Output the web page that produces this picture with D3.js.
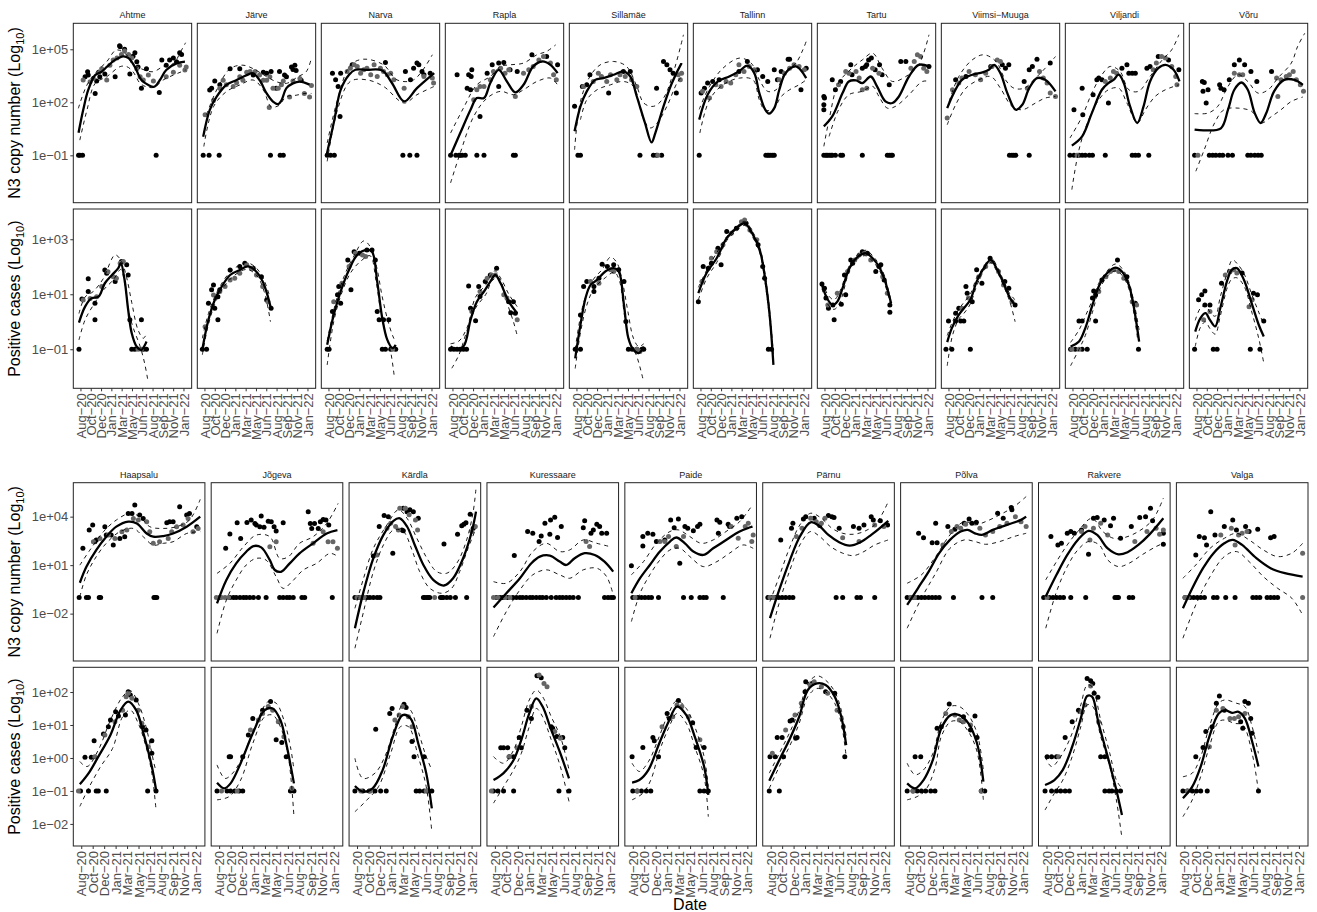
<!DOCTYPE html>
<html>
<head>
<meta charset="utf-8">
<script src="https://cdn.jsdelivr.net/npm/d3@7"></script>
<style>
  body { margin: 0; background: #fff; }
  svg { font-family: "Liberation Sans", Arial, Helvetica, sans-serif; }
</style>
</head>
<body>
<div id="chart"></div>
<script>
// x values are months since 1 Aug 2020, y values are log10 of the measure (0.1 = no detection)
const locA = ['Ahtme', 'Järve', 'Narva', 'Rapla', 'Sillamäe', 'Tallinn', 'Tartu', 'Viimsi−Muuga', 'Viljandi', 'Võru']
const locB = ['Haapsalu', 'Jõgeva', 'Kärdla', 'Kuressaare', 'Paide', 'Pärnu', 'Põlva', 'Rakvere', 'Valga']
const dateTicks = ['2020-08-31', '2020-10-19', '2020-12-07', '2021-01-25', '2021-03-15', '2021-05-03',
  '2021-06-21', '2021-08-09', '2021-09-27', '2021-11-15', '2022-01-03']

// ---- group A, N3 copy number
const n3BlackA = [
  [[0.7,-1],[0.9,-1],[1.3,-1],[12.8,-1],[1.7,3.45],[2.1,3.73],[2.2,3.54],[3.3,2.5],[3.5,3.2],[4.0,3.45],[4.8,3.6],[6.4,3.45],[7.2,5.15],[7.1,5.2],[7.9,5.0],[8.7,3.6],[9.2,4.6],[9.5,4.8],[9.8,4.3],[10.0,4.0],[10.5,2.8],[11.3,3.9],[13.3,2.55],[13.7,4.4],[14.4,4.1],[14.9,4.4],[15.5,4.5],[16.0,4.3],[16.5,4.8],[16.8,4.7]],
  [[0.8,-1],[1.7,-1],[3.3,-1],[11.3,-1],[12.8,-1],[13.3,-1],[1.8,2.7],[2.1,2.8],[2.6,3.2],[3.4,3.0],[5.0,3.9],[6.5,3.9],[8.6,3.55],[10.2,3.7],[10.7,3.65],[11.4,3.75],[12.7,3.75],[13.5,3.55],[13.8,3.45],[14.6,4.0],[15.1,4.1],[14.8,3.85],[15.3,3.8],[16.1,3.25],[12.2,2.8]],
  [[0.8,-1],[1.3,-1],[1.9,-1],[12.6,-1],[13.7,-1],[14.8,-1],[1.6,3.65],[2.1,3.27],[2.9,3.65],[2.5,2.9],[2.8,1.2],[4.7,4.12],[9.9,4.25],[13.0,3.75],[13.8,3.27],[14.3,3.93],[14.8,4.22],[15.1,4.12],[15.6,3.75],[15.9,3.56],[16.9,3.65]],
  [[0.7,-1],[1.5,-1],[2.0,-1],[2.2,-1],[2.5,-1],[3.0,-1],[4.8,-1],[5.9,-1],[10.5,-1],[10.8,-1],[1.7,3.56],[3.5,3.56],[4.0,3.84],[3.9,3.46],[3.3,2.8],[3.8,2.71],[5.3,1.2],[6.4,3.65],[7.2,4.12],[8.2,4.22],[9.0,4.25],[8.2,2.9],[10.0,3.84],[11.1,3.75],[13.4,4.69],[15.7,4.59],[17.4,4.12]],
  [[1.2,-1],[1.6,-1],[10.9,-1],[13.0,-1],[13.5,-1],[14.3,-1],[0.7,1.77],[1.9,2.9],[2.6,3.0],[3.1,3.56],[6.0,2.52],[8.3,3.75],[9.4,3.75],[13.5,2.8],[14.6,4.31],[15.1,4.12],[15.6,3.84],[16.1,3.65],[16.6,2.52]],
  [[0.8,-1],[11.2,-1],[11.5,-1],[11.7,-1],[12.0,-1],[12.3,-1],[12.5,-1],[1.1,2.52],[1.6,2.8],[2.1,3.09],[2.9,3.18],[3.9,3.27],[7.0,3.75],[8.3,4.31],[9.9,3.84],[10.7,3.46],[11.5,3.18],[12.5,3.84],[13.0,3.27],[13.6,3.75],[14.7,4.44],[14.9,4.44],[16.7,2.71],[17.5,3.93]],
  [[0.9,-1],[1.2,-1],[1.4,-1],[1.7,-1],[2.0,-1],[2.2,-1],[2.7,-1],[3.5,-1],[3.8,-1],[6.9,-1],[10.8,-1],[11.1,-1],[11.4,-1],[11.6,-1],[0.9,2.33],[1.0,2.24],[0.9,1.86],[0.9,1.58],[2.2,3.27],[2.7,2.71],[3.5,3.18],[5.1,4.12],[5.3,3.56],[6.9,3.93],[7.6,4.12],[7.9,4.4],[8.3,4.5],[7.4,4.03],[8.9,3.84],[9.6,4.12],[10.0,3.56],[11.1,2.99],[12.9,4.31],[13.7,4.31],[17.3,4.03]],
  [[10.5,-1],[10.9,-1],[11.2,-1],[11.5,-1],[13.6,-1],[2.1,3.27],[3.7,3.46],[7.6,4.03],[9.4,4.12],[9.9,3.93],[10.4,4.12],[12.8,3.18],[13.6,3.84],[14.1,4.03],[14.8,4.44],[16.9,4.22]],
  [[0.6,-1],[1.2,-1],[2.0,-1],[2.5,-1],[3.0,-1],[3.6,-1],[4.1,-1],[6.1,-1],[10.3,-1],[10.8,-1],[11.3,-1],[12.9,-1],[1.2,1.58],[2.5,2.8],[2.6,1.3],[4.2,2.43],[4.8,3.27],[5.1,3.37],[5.6,3.27],[6.6,1.96],[8.7,3.93],[9.5,4.12],[9.8,3.65],[10.3,3.65],[10.8,3.65],[12.6,3.93],[13.1,4.03],[14.4,4.59],[16.0,4.4],[17.6,3.84]],
  [[0.7,-1],[3.0,-1],[3.5,-1],[4.0,-1],[4.6,-1],[5.1,-1],[5.9,-1],[6.6,-1],[9.0,-1],[9.5,-1],[10.1,-1],[10.6,-1],[11.1,-1],[1.9,3.18],[2.2,3.12],[2.0,2.62],[2.8,2.71],[2.5,1.96],[4.6,2.99],[4.8,2.8],[5.3,2.71],[6.1,3.27],[6.9,4.12],[7.7,4.4],[8.5,4.12],[9.5,3.75],[10.4,3.18],[12.7,3.75]]
]
const n3GreyA = [
  [[1.4,3.26],[2.5,3.17],[3.0,3.35],[3.8,3.7],[4.3,3.9],[5.1,3.26],[5.6,4.1],[6.1,4.4],[6.7,4.5],[7.4,4.7],[7.9,4.9],[8.5,4.7],[9.0,4.5],[9.8,3.9],[10.3,3.45],[10.8,3.26],[11.6,3.55],[12.4,3.2],[14.4,3.45],[15.5,3.7],[16.5,4.1],[17.3,3.83],[17.5,4.0]],
  [[1.1,1.3],[2.4,2.1],[3.4,2.8],[3.9,3.25],[4.4,3.0],[5.5,2.9],[6.0,3.1],[6.5,3.45],[7.0,3.25],[7.6,3.7],[8.1,3.75],[8.9,3.75],[9.6,3.55],[10.2,3.25],[10.7,3.25],[11.1,1.7],[11.2,3.45],[11.7,2.8],[12.5,2.8],[13.0,3.0],[13.3,3.2],[14.3,2.3],[14.8,3.2],[15.9,3.35],[16.6,2.5],[17.4,2.3],[17.7,2.95]],
  [[3.9,3.75],[4.4,3.93],[5.0,4.12],[5.5,4.03],[6.0,3.65],[6.5,3.84],[7.0,3.93],[7.6,3.56],[8.1,4.12],[8.6,3.46],[9.1,3.93],[9.6,3.75],[10.2,3.56],[10.7,3.65],[11.2,3.27],[12.8,2.8],[15.9,3.46],[17.2,3.37],[17.4,3.09]],
  [[4.3,2.14],[4.8,2.71],[5.3,2.9],[5.9,2.9],[6.9,3.27],[7.4,3.75],[8.5,3.93],[9.2,3.65],[9.8,3.84],[10.8,2.33],[12.1,3.65],[12.9,3.84],[13.6,4.03],[14.5,4.4],[15.2,4.59],[16.3,4.22],[16.8,3.56],[17.2,3.27]],
  [[2.1,2.9],[3.6,3.18],[4.4,3.65],[4.9,3.46],[5.7,3.18],[6.3,3.56],[7.3,3.27],[7.8,3.56],[8.6,3.46],[9.6,3.27],[10.4,2.9],[13.7,-1],[16.9,3.56],[17.2,3.27],[17.4,3.65]],
  [[1.3,2.62],[2.4,2.24],[3.4,2.99],[4.2,2.9],[5.0,3.18],[5.7,3.09],[6.5,3.56],[7.0,4.12],[7.8,3.75],[8.6,4.03],[9.4,3.84],[13.3,3.27],[14.1,3.65],[14.9,3.93],[15.6,4.12],[16.4,4.03],[17.2,3.84]],
  [[3.2,2.99],[4.3,3.75],[4.8,3.65],[5.9,3.75],[6.4,3.37],[6.9,2.71],[7.6,2.8],[8.5,3.93],[9.5,3.65],[14.5,3.93],[15.0,4.31],[15.5,4.69],[16.0,4.59],[16.5,3.93],[17.0,3.75]],
  [[0.8,1.11],[1.6,2.71],[2.6,3.09],[3.1,3.37],[4.2,3.75],[5.2,3.56],[6.0,3.27],[6.8,3.65],[7.8,4.03],[8.6,4.4],[9.1,4.31],[13.3,2.8],[15.2,3.75],[15.8,3.37],[16.4,3.09],[16.9,2.52],[17.7,2.33]],
  [[1.7,-1],[6.1,3.18],[6.9,3.37],[7.4,3.75],[7.9,3.65],[13.6,3.84],[14.1,4.22],[14.9,4.59],[15.5,4.5],[16.5,4.03],[17.1,3.46],[17.3,2.99]],
  [[1.2,-1],[6.9,3.65],[7.7,3.56],[8.2,3.56],[13.5,3.37],[13.7,2.33],[14.2,3.27],[15.0,3.46],[15.5,3.56],[16.1,3.75],[16.6,3.27],[17.2,2.99],[17.7,2.62]]
]
const n3FitA = [
  [[0.7,0.28],[1.4,1.56],[2.2,2.7],[3.3,3.54],[4.3,3.73],[5.1,4.0],[6.4,4.4],[7.7,4.6],[8.5,4.5],[9.5,4.0],[10.5,3.26],[11.6,2.98],[12.5,2.88],[13.4,3.26],[14.4,3.83],[16.0,4.2],[17.3,4.3]],
  [[0.8,0.05],[1.8,1.56],[2.9,2.32],[4.4,2.98],[6.0,3.26],[7.6,3.54],[8.6,3.64],[9.6,3.26],[10.7,2.5],[11.7,2.04],[12.5,1.9],[13.0,2.1],[13.8,2.8],[14.8,3.07],[15.9,3.17],[17.4,3.0]],
  [[0.7,-1],[1.9,1.0],[2.9,2.7],[4.2,3.56],[5.2,3.84],[7.0,3.84],[9.4,3.8],[10.9,3.09],[12.8,2.05],[14.8,2.8],[17.5,3.65]],
  [[0.7,-1],[2.2,0.26],[3.8,1.58],[4.8,2.24],[5.9,2.24],[6.9,3.09],[8.2,3.84],[9.5,3.18],[10.8,2.56],[12.1,2.99],[13.6,4.03],[15.0,4.31],[16.3,4.12],[17.4,3.65]],
  [[0.7,0.36],[1.6,1.77],[2.6,2.62],[3.9,3.27],[5.2,3.37],[6.8,3.56],[8.3,3.75],[9.4,3.46],[10.4,2.33],[11.7,0.83],[12.7,-0.27],[13.3,0.26],[14.6,1.77],[15.9,3.09],[17.4,4.22]],
  [[0.8,1.02],[2.1,2.43],[3.7,3.18],[5.5,3.46],[7.0,3.75],[8.3,4.07],[9.4,3.65],[10.2,2.52],[11.1,1.58],[11.7,1.36],[12.5,1.67],[13.3,2.71],[14.3,3.65],[15.9,4.03],[17.5,3.37]],
  [[0.9,0.64],[2.2,1.2],[3.8,2.52],[4.8,3.18],[5.9,3.24],[6.9,3.09],[8.2,3.46],[9.2,2.9],[10.5,2.05],[11.6,1.96],[12.6,2.33],[14.2,3.46],[15.7,4.12],[17.3,4.03]],
  [[0.8,1.67],[1.8,2.52],[3.1,3.27],[4.7,3.56],[6.3,3.69],[7.3,3.84],[8.1,4.12],[9.1,3.65],[10.2,2.52],[11.5,1.58],[12.5,1.86],[13.6,2.8],[14.8,3.37],[16.1,3.27],[17.7,2.62]],
  [[0.9,-0.45],[2.5,0.07],[4.0,1.39],[5.6,2.71],[6.6,3.09],[7.4,3.27],[8.2,3.56],[9.0,3.09],[10.0,1.77],[11.1,0.83],[12.1,1.77],[13.1,3.18],[14.4,3.93],[15.5,4.12],[16.8,3.84],[17.7,3.18]],
  [[0.7,0.45],[2.2,0.41],[4.8,0.53],[5.9,1.58],[6.9,2.71],[8.0,3.12],[9.0,2.71],[10.1,1.39],[11.0,0.83],[11.9,1.39],[13.1,2.62],[14.7,3.27],[16.3,3.27],[17.6,2.99]]
]
const n3HiA = [
  [[0.65,1.66],[2.0,2.98],[3.5,3.73],[5.1,4.3],[6.6,4.96],[8.2,4.68],[9.2,4.1],[10.3,3.92],[12.3,3.73],[13.9,4.02],[15.5,4.2],[16.8,4.96],[17.4,5.37]],
  [[1.3,1.3],[2.9,2.7],[5.0,3.9],[7.0,4.1],[8.6,3.9],[10.7,3.45],[12.2,3.17],[13.8,3.07],[15.6,3.45],[16.9,3.73],[17.7,4.5]],
  [[0.8,-0.3],[2.4,2.14],[4.4,4.1],[6.5,4.44],[9.6,4.12],[11.7,3.27],[14.3,3.27],[17.2,4.69]],
  [[0.7,0.26],[2.7,1.67],[4.8,2.99],[6.9,3.46],[8.5,4.03],[10.0,4.12],[12.1,4.22],[14.2,4.69],[15.7,4.88],[17.1,5.25]],
  [[0.7,-0.68],[1.6,2.05],[3.1,3.46],[4.7,4.12],[6.8,4.31],[8.8,4.03],[10.4,2.9],[11.5,1.96],[13.0,1.77],[14.6,2.24],[16.1,3.65],[17.7,5.82]],
  [[0.8,1.6],[2.4,2.9],[4.5,3.93],[7.1,4.5],[8.9,4.22],[10.2,3.27],[11.5,2.62],[12.8,2.71],[14.3,3.75],[15.9,4.22],[17.0,4.97],[17.6,5.54]],
  [[0.9,-0.49],[1.7,1.02],[3.2,3.09],[5.3,3.93],[6.9,4.4],[8.5,4.78],[10.0,3.93],[11.6,3.18],[13.7,3.46],[15.7,4.12],[17.3,5.82]],
  [[1.1,2.05],[2.6,3.46],[4.7,4.4],[6.5,4.69],[8.4,4.31],[9.9,3.27],[11.2,2.8],[12.8,2.8],[14.6,3.37],[16.1,3.93],[17.7,4.59]],
  [[0.6,-0.02],[2.5,1.2],[4.0,2.52],[5.6,3.56],[6.9,4.03],[8.4,3.75],[9.8,2.71],[11.3,2.62],[13.1,3.46],[15.0,4.4],[16.5,4.97],[17.6,5.82]],
  [[0.7,1.36],[2.8,1.39],[4.3,1.77],[5.9,2.9],[7.5,3.56],[9.0,3.18],[10.6,2.52],[12.2,2.71],[13.7,3.37],[15.8,4.22],[16.8,5.16],[17.9,5.91]]
]
const n3LoA = [
  [[0.9,-0.14],[2.0,1.56],[3.3,3.07],[5.1,3.45],[7.2,4.02],[8.2,4.02],[9.2,3.73],[10.3,3.07],[11.3,2.88],[12.5,2.85],[13.9,3.26],[15.5,3.54],[16.8,3.73],[17.4,3.83]],
  [[0.9,-0.5],[2.4,1.75],[4.4,2.6],[6.5,2.98],[8.6,3.26],[10.2,2.7],[11.4,1.75],[12.5,1.8],[13.8,2.32],[15.3,2.4],[16.9,2.51],[17.7,2.5]],
  [[0.8,-1.34],[2.4,1.58],[4.4,3.18],[7.0,3.27],[9.6,2.9],[12.8,1.96],[14.8,2.43],[17.5,2.9]],
  [[0.7,-2.56],[2.2,-0.87],[4.3,1.2],[6.4,2.24],[8.5,2.62],[10.5,2.43],[12.1,2.71],[14.2,3.18],[16.3,3.37],[17.4,2.99]],
  [[1.6,1.02],[2.6,2.14],[4.2,2.71],[6.3,2.99],[8.3,3.18],[9.9,2.9],[11.5,1.02],[12.5,0.55],[13.6,0.83],[15.1,1.77],[16.7,3.09],[17.6,3.56]],
  [[0.9,0.26],[2.4,2.14],[4.5,2.99],[7.1,3.37],[9.2,3.27],[10.2,2.14],[11.0,1.58],[12.3,1.58],[13.6,2.33],[14.9,2.71],[16.4,2.99],[17.5,3.27]],
  [[1.7,0.07],[3.2,1.58],[4.8,2.43],[6.9,2.62],[8.5,2.9],[9.5,2.33],[10.8,1.67],[12.1,1.77],[14.2,2.43],[16.3,3.18],[17.5,3.18]],
  [[0.8,0.73],[2.1,1.86],[3.7,2.8],[5.7,3.27],[7.6,3.46],[9.1,2.8],[10.9,1.77],[12.5,1.58],[14.6,1.96],[16.1,2.24],[17.7,2.33]],
  [[0.9,-2.94],[2.0,-0.68],[3.5,1.02],[5.1,2.14],[6.6,2.71],[8.2,2.8],[9.5,1.96],[11.1,0.83],[12.4,1.58],[13.9,2.33],[15.5,2.71],[17.6,2.99]],
  [[0.9,-1.9],[2.2,-0.68],[3.8,0.83],[5.3,1.58],[7.5,1.67],[9.6,1.49],[11.1,0.83],[12.7,1.2],[14.2,1.58],[15.8,2.05],[17.6,2.3]]
]

// ---- group A, positive cases
const casesBlackA = [
  [[0.75,-1],[1.2,0.83],[2.2,1.1],[2.2,1.56],[3.25,0.07],[3.25,0.67],[4.8,1.88],[5.1,1.76],[6.4,1.46],[7.4,2.19],[8.2,2.07],[8.45,1.7],[8.7,0.07],[9.0,-1],[9.5,-1],[10.5,0.07],[10.8,-1],[11.3,-1]],
  [[0.65,-1],[1.3,-1],[1.6,0.67],[2.4,1.34],[2.1,1.16],[2.6,0.49],[3.1,0.91],[3.1,0.07],[3.4,1.16],[5.0,1.88],[6.5,2.01],[7.3,2.13],[8.6,1.95],[9.9,1.64],[10.7,0.79],[11.4,0.49]],
  [[0.8,-1],[1.1,-1],[1.6,0.37],[2.4,0.98],[2.6,1.28],[2.9,0.67],[4.5,1.16],[4.0,2.25],[5.0,2.55],[5.8,2.49],[7.0,2.61],[7.8,2.61],[8.3,2.25],[8.6,0.37],[8.9,0.07],[9.6,0.07],[10.4,0.07],[9.4,-1],[9.9,-1],[10.7,-1],[11.5,-1]],
  [[0.7,-1],[1.2,-1],[1.7,-1],[2.2,-1],[2.7,-1],[3.2,-1],[3.5,1.3],[5.1,1.28],[3.8,0.49],[4.6,0.04],[5.3,0.92],[6.1,1.46],[6.9,1.7],[7.9,1.95],[9.8,0.73],[10.1,0.33],[10.5,0.73],[10.8,0.31]],
  [[0.8,-1],[1.6,-1],[1.6,0.25],[2.1,1.28],[2.6,1.46],[3.7,1.1],[3.7,1.28],[4.5,1.58],[5.0,2.09],[5.8,2.01],[6.8,2.07],[7.6,1.89],[8.4,1.46],[8.7,0.01],[9.1,-1],[9.7,-1],[10.4,-1],[11.2,-1],[11.5,-1]],
  [[0.65,0.73],[1.4,2.01],[2.2,1.95],[2.7,2.13],[4.2,2.07],[3.7,2.67],[5.1,3.28],[6.6,3.4],[8.1,3.58],[10.0,2.8],[10.7,2.01],[11.0,1.58],[11.6,-1],[12.1,-1]],
  [[0.6,1.37],[1.0,1.22],[1.2,0.86],[1.6,0.49],[2.5,0.07],[2.3,0.61],[3.6,0.64],[4.3,0.98],[4.1,1.7],[5.1,2.25],[5.4,2.13],[6.9,2.55],[7.7,2.49],[9.0,1.83],[9.5,2.01],[9.8,2.07],[10.3,1.52],[11.2,0.61],[11.2,0.35]],
  [[0.6,-1],[1.5,-1],[4.4,-1],[1.0,0.03],[2.1,0.03],[2.9,0.03],[3.4,0.03],[2.1,0.31],[2.6,0.49],[3.9,1.04],[3.7,1.28],[4.7,0.73],[5.4,1.89],[6.2,1.4],[7.5,2.31],[9.8,1.46],[10.4,1.22],[11.4,0.61]],
  [[0.7,-1],[1.4,-1],[2.5,-1],[3.3,-1],[2.0,0.03],[2.5,0.03],[4.6,0.03],[4.1,0.86],[4.3,1.12],[4.6,0.98],[5.6,1.52],[8.0,2.25],[9.5,1.64],[10.8,0.67],[11.3,-1]],
  [[0.7,-1],[3.6,-1],[4.2,-1],[9.4,-1],[10.9,-1],[1.3,0.8],[1.8,0.98],[2.3,1.12],[2.3,0.61],[3.1,0.61],[4.9,1.4],[6.2,1.83],[8.1,1.77],[9.9,1.04],[10.5,0.98],[11.5,0.03]]
]
const casesGreyA = [
  [[1.4,0.79],[2.5,0.85],[3.5,0.91],[4.3,1.28],[5.3,1.82],[6.1,1.64],[6.6,1.58],[7.2,2.13],[7.7,2.19],[10.0,-1],[10.5,-1]],
  [[1.1,-0.18],[2.4,0.97],[3.4,1.1],[4.2,1.28],[5.0,1.52],[5.7,1.58],[6.5,1.76],[7.6,2.07],[8.3,1.95],[9.1,1.7],[10.1,1.28],[10.9,0.73]],
  [[1.8,0.73],[3.1,1.4],[4.2,2.01],[5.2,2.49],[6.3,2.43],[6.8,2.37],[11.0,-1]],
  [[4.0,0.37],[5.3,1.1],[6.4,1.58],[7.1,1.7],[7.7,1.7],[9.0,0.98],[9.5,0.86],[11.1,0.07]],
  [[3.2,1.46],[4.5,1.4],[6.3,1.89],[6.8,1.83],[10.4,-1],[10.9,-1.08]],
  [[1.2,1.46],[2.7,2.31],[3.5,2.55],[4.5,2.8],[5.8,3.22],[7.4,3.64],[7.9,3.7],[8.7,3.34],[9.8,2.98]],
  [[1.5,0.61],[3.0,1.04],[4.6,1.83],[5.7,2.25],[6.4,2.43],[7.2,2.49],[8.2,2.25],[10.1,1.64],[10.8,1.04]],
  [[3.1,0.49],[4.1,0.86],[5.7,1.64],[6.8,2.01],[7.8,2.19],[8.8,1.83],[9.6,1.34],[10.9,0.73]],
  [[0.9,-1],[2.0,-1],[5.1,1.1],[6.2,1.64],[6.9,1.83],[7.5,1.89],[8.2,1.83],[9.0,1.58],[10.3,0.73],[11.0,0.61]],
  [[2.1,0.07],[3.1,0.37],[5.5,1.7],[6.2,1.83],[6.8,1.89],[7.3,1.77],[9.2,0.55],[9.7,0.8]]
]
const casesFitA = [
  [[0.75,-0.03],[1.7,0.55],[2.7,0.85],[3.8,0.91],[4.8,1.4],[5.9,1.7],[6.9,1.95],[7.3,2.13],[7.9,1.52],[8.45,0.43],[9.0,-0.42],[9.75,-0.9],[10.5,-1.02],[11.3,-0.72]],
  [[0.65,-1],[1.6,0.07],[2.6,0.79],[3.4,1.16],[5.0,1.7],[6.5,1.88],[7.8,2.01],[9.1,1.82],[10.1,1.46],[10.9,0.91],[11.3,0.55]],
  [[0.8,-0.84],[1.8,0.25],[2.9,1.1],[4.2,1.89],[5.5,2.43],[7.0,2.61],[7.8,2.55],[8.6,1.46],[9.4,0.13],[10.2,-0.66],[11.0,-0.96],[11.5,-0.84]],
  [[0.7,-0.9],[1.4,-0.99],[2.7,-0.9],[3.8,0.07],[4.8,0.73],[5.9,1.1],[6.9,1.46],[7.7,1.7],[8.5,1.4],[9.8,0.73],[11.1,0.31]],
  [[0.8,-1.33],[1.6,-0.11],[2.4,0.86],[3.2,1.34],[4.2,1.52],[5.5,1.83],[6.8,1.95],[7.6,1.83],[8.4,0.61],[9.1,-0.6],[9.9,-1.02],[10.7,-1.14],[11.5,-0.9]],
  [[0.65,1.04],[1.95,1.77],[3.5,2.31],[5.1,3.04],[6.6,3.4],[7.9,3.58],[9.2,3.16],[10.3,2.55],[11.0,1.7],[11.8,0.25],[12.4,-1.57]],
  [[0.6,1.34],[1.5,0.8],[2.3,0.61],[3.0,0.73],[3.8,1.22],[4.9,1.95],[6.2,2.37],[7.5,2.49],[8.5,2.31],[9.5,2.01],[10.3,1.58],[11.4,0.67]],
  [[0.8,-0.74],[1.5,-0.23],[2.6,0.25],[3.4,0.49],[4.4,0.8],[5.4,1.46],[6.5,1.95],[7.6,2.25],[8.6,1.89],[9.6,1.4],[10.6,0.86],[11.4,0.61]],
  [[0.7,-0.9],[2.0,-0.72],[3.0,-0.23],[4.1,0.61],[5.1,1.28],[6.4,1.77],[7.7,1.97],[8.7,1.83],[9.8,1.34],[10.5,0.61],[11.4,-0.72]],
  [[0.8,-0.36],[1.6,0.13],[2.4,0.31],[3.1,0.07],[3.9,-0.17],[4.7,0.49],[5.8,1.52],[6.5,1.89],[7.3,1.95],[8.4,1.52],[9.7,0.61],[10.7,-0.11],[11.5,-0.54]]
]
const casesHiA = [
  [[0.75,0.3],[1.7,0.9],[3.0,1.1],[4.5,1.55],[6.4,2.43],[7.4,2.2],[8.2,1.6],[9.0,0.7],[10.0,-0.3],[10.8,-0.6],[11.3,-0.45]],
  [[0.65,-0.6],[1.6,0.3],[3.0,1.1],[5.0,1.8],[7.5,2.15],[9.1,1.95],[10.3,1.5],[11.2,0.9]],
  [[0.8,-0.7],[2.0,0.6],[3.5,1.7],[5.0,2.4],[6.5,2.94],[7.6,2.7],[8.5,2.0],[9.4,0.9],[10.3,0.0],[11.0,-0.5],[11.5,-0.75]],
  [[0.7,-0.8],[2.0,-0.7],[3.3,-0.2],[4.6,0.9],[6.2,1.35],[7.6,1.85],[8.6,1.55],[9.8,1.0],[11.1,0.55]],
  [[0.8,-1.0],[2.0,0.6],[3.5,1.5],[5.0,1.9],[6.3,2.35],[7.3,2.15],[8.2,1.4],[9.0,0.4],[9.9,-0.6],[10.7,-0.9],[11.5,-0.8]],
  [[0.65,1.25],[2.0,1.9],[3.5,2.5],[5.1,3.1],[6.6,3.45],[7.9,3.65],[9.2,3.25],[10.3,2.65],[11.0,1.85],[11.8,0.4],[12.4,-1.2]],
  [[0.6,1.45],[1.6,0.95],[2.5,0.8],[3.4,1.1],[4.9,2.05],[6.2,2.45],[7.5,2.6],[8.5,2.4],[9.5,2.1],[10.3,1.7],[11.4,0.75]],
  [[0.8,-0.5],[1.6,0.0],[2.6,0.45],[3.4,0.7],[4.4,1.0],[5.4,1.6],[6.5,2.0],[7.6,2.35],[8.6,2.0],[9.6,1.5],[10.6,1.0],[11.4,0.8]],
  [[0.7,-0.75],[2.0,-0.3],[3.0,0.2],[4.1,0.8],[5.1,1.4],[6.4,1.85],[7.7,2.1],[8.7,1.95],[9.8,1.45],[10.5,0.8],[11.4,-0.3]],
  [[0.8,0.05],[1.6,0.5],[2.4,0.6],[3.1,0.35],[3.9,0.2],[4.7,0.9],[5.8,1.8],[6.6,2.25],[7.4,2.1],[8.4,1.75],[9.7,0.95],[10.7,0.35],[11.5,-0.1]]
]
const casesLoA = [
  [[0.75,-0.66],[1.7,0.07],[3.0,0.6],[4.6,1.16],[6.1,1.52],[7.3,1.9],[7.9,1.4],[8.5,0.4],[9.2,-0.2],[10.3,-0.9],[11.0,-1.5],[11.5,-2.1]],
  [[0.65,-1.2],[1.6,-0.1],[3.0,0.85],[5.0,1.55],[7.5,1.9],[9.1,1.7],[10.3,1.1],[11.3,0.0]],
  [[0.8,-1.57],[1.8,0.0],[3.0,1.0],[4.5,1.8],[6.0,2.2],[7.5,2.4],[8.4,1.5],[9.2,0.3],[10.0,-0.5],[10.7,-1.1],[11.3,-2.05]],
  [[0.9,-1.69],[2.0,-1.2],[3.3,-0.3],[4.6,0.5],[6.2,1.0],[7.2,1.5],[8.2,1.6],[9.5,0.7],[10.5,0.0],[11.1,-0.5]],
  [[0.8,-1.7],[1.6,-0.4],[2.6,0.6],[3.7,1.2],[5.5,1.6],[6.9,1.8],[7.7,1.5],[8.5,0.2],[9.4,-0.8],[10.3,-1.2],[11.4,-2.1]],
  [[0.65,0.8],[2.0,1.6],[3.5,2.15],[5.1,2.95],[6.6,3.3],[7.9,3.5],[9.2,3.05],[10.3,2.45],[11.0,1.55],[11.8,0.1],[12.3,-1.2]],
  [[0.6,1.2],[1.6,0.6],[2.5,0.45],[3.4,0.7],[4.9,1.85],[6.2,2.3],[7.5,2.4],[8.5,2.2],[9.5,1.9],[10.3,1.45],[11.4,0.55]],
  [[0.8,-1.6],[1.6,-0.5],[2.6,0.1],[3.4,0.3],[4.4,0.65],[5.4,1.3],[6.5,1.85],[7.6,2.15],[8.6,1.8],[9.6,1.3],[10.6,0.7],[11.4,0.0]],
  [[0.7,-1.6],[2.0,-1.0],[3.0,-0.5],[4.1,0.35],[5.1,1.1],[6.4,1.65],[7.7,1.85],[8.7,1.7],[9.8,1.2],[10.5,0.4],[11.2,-0.7]],
  [[0.8,-0.9],[1.6,-0.2],[2.4,0.0],[3.1,-0.25],[3.9,-0.45],[4.7,0.2],[5.8,1.25],[6.5,1.55],[7.3,1.6],[8.4,1.3],[9.7,0.3],[10.7,-0.6],[11.5,-1.5]]
]

// ---- group B, N3 copy number
const n3BlackB = [
  [[0.7,-1],[1.7,-1],[2.0,-1],[3.5,-1],[3.7,-1],[11.2,-1],[11.4,-1],[11.6,-1],[1.2,2.04],[2.1,3.17],[2.6,3.48],[2.9,2.45],[3.1,2.55],[4.3,3.38],[4.5,2.87],[5.2,2.87],[5.5,2.24],[6.4,2.65],[7.1,2.76],[7.6,4.2],[8.1,4.2],[8.5,4.72],[9.2,4.1],[9.7,3.89],[13.0,3.62],[13.4,3.69],[13.9,3.69],[14.8,4.61],[15.8,4.1],[16.2,4.2],[17.2,3.38]],
  [[1.1,-1],[2.5,-1],[3.0,-1],[3.4,-1],[3.9,-1],[4.4,-1],[4.8,-1],[5.3,-1],[5.8,-1],[6.5,-1],[7.6,-1],[9.5,-1],[10.0,-1],[10.5,-1],[10.9,-1],[11.4,-1],[12.6,-1],[13.0,-1],[16.9,-1],[1.9,2.04],[2.5,2.92],[3.5,3.62],[4.0,2.65],[4.9,3.64],[5.5,3.79],[6.0,3.58],[6.2,3.48],[6.7,3.38],[6.9,4.04],[7.3,3.34],[7.9,3.71],[8.3,3.69],[8.7,3.38],[9.0,3.11],[10.0,3.62],[13.5,4.3],[13.8,3.58],[14.0,3.27],[14.4,3.58],[14.9,3.27],[15.2,3.69],[15.6,3.83],[16.0,3.79],[16.4,3.48]],
  [[0.7,-1],[1.2,-1],[1.7,-1],[2.4,-1],[2.8,-1],[3.3,-1],[3.8,-1],[4.2,-1],[10.3,-1],[10.5,-1],[10.8,-1],[11.0,-1],[11.2,-1],[12.7,-1],[12.9,-1],[13.1,-1],[13.6,-1],[14.1,-1],[14.8,-1],[16.4,-1],[3.3,1.57],[4.1,3.39],[4.8,4.07],[5.4,4.0],[6.0,1.74],[7.3,3.18],[7.5,3.12],[7.5,4.52],[8.0,4.31],[8.4,4.42],[8.9,4.31],[9.6,3.9],[13.2,2.31],[15.1,2.91],[15.7,3.43],[16.0,3.53],[16.3,3.63],[16.9,4.15],[17.3,3.28]],
  [[1.2,-1],[1.7,-1],[2.1,-1],[2.8,-1],[3.5,-1],[4.0,-1],[4.5,-1],[4.9,-1],[5.4,-1],[5.9,-1],[6.3,-1],[6.8,-1],[7.3,-1],[7.7,-1],[8.2,-1],[8.9,-1],[9.6,-1],[10.1,-1],[10.5,-1],[11.0,-1],[11.5,-1],[12.0,-1],[12.7,-1],[16.4,-1],[16.9,-1],[17.3,-1],[17.65,-1],[3.7,1.59],[5.6,3.08],[6.3,2.97],[7.2,2.46],[7.5,2.81],[8.0,3.59],[8.8,3.8],[9.4,3.96],[8.7,2.91],[9.8,2.71],[10.3,3.39],[13.6,3.74],[13.4,3.32],[14.5,2.97],[14.8,3.18],[15.3,3.53],[15.7,3.39],[16.0,2.97],[16.7,2.97]],
  [[1.0,-1],[1.7,-1],[2.2,-1],[2.7,-1],[3.2,-1],[3.6,-1],[4.6,-1],[8.1,-1],[9.2,-1],[10.4,-1],[10.9,-1],[11.3,-1],[13.7,-1],[0.8,0.97],[2.4,2.19],[2.4,2.77],[3.1,2.97],[3.8,2.91],[4.3,2.46],[5.5,2.56],[6.3,3.8],[6.8,3.32],[7.4,3.86],[7.6,1.12],[8.3,3.39],[8.7,3.28],[9.5,3.12],[10.1,3.39],[10.4,3.53],[12.8,3.8],[13.2,3.66],[13.0,2.97],[14.4,3.53],[14.6,3.39],[15.6,3.9],[16.3,4.0]],
  [[0.6,-1],[1.1,-1],[1.6,-1],[2.1,-1],[2.6,-1],[3.1,-1],[3.6,-1],[4.1,-1],[10.2,-1],[11.1,-1],[13.1,-1],[13.6,-1],[15.6,-1],[2.4,2.56],[3.9,3.28],[4.1,3.59],[5.6,3.86],[5.9,4.0],[7.1,3.9],[7.9,3.45],[9.1,4.07],[9.6,4.0],[9.9,3.94],[10.6,3.28],[12.6,3.39],[13.4,3.28],[14.1,3.49],[15.1,4.0],[15.4,3.8],[16.4,3.74],[17.4,3.49]],
  [[0.8,-1],[1.3,-1],[1.8,-1],[2.3,-1],[2.8,-1],[3.3,-1],[3.8,-1],[4.3,-1],[4.8,-1],[5.3,-1],[7.3,-1],[11.3,-1],[12.8,-1],[2.4,2.97],[3.1,2.7],[4.3,2.39],[4.8,3.59],[5.0,2.39],[6.5,3.39],[7.5,3.22],[8.8,3.59],[9.5,3.86],[9.9,3.59],[10.5,3.65],[13.5,4.21],[14.3,3.9],[15.4,4.56],[15.5,4.42]],
  [[0.6,-1],[1.4,-1],[1.9,-1],[2.4,-1],[2.9,-1],[3.4,-1],[4.4,-1],[6.5,-1],[10.6,-1],[10.9,-1],[11.1,-1],[12.6,-1],[13.1,-1],[1.6,2.77],[2.6,2.25],[3.1,2.35],[3.9,2.97],[4.4,3.08],[4.9,2.97],[5.9,3.18],[6.9,1.67],[7.6,3.9],[8.1,3.94],[9.1,3.8],[10.0,3.43],[10.4,3.9],[11.4,2.66],[12.9,3.39],[14.1,3.94],[14.9,4.0],[15.6,4.52],[15.9,3.74],[17.4,2.97],[17.4,2.29]],
  [[1.1,-1],[1.8,-1],[2.3,-1],[2.8,-1],[3.3,-1],[3.8,-1],[5.1,-1],[5.6,-1],[6.8,-1],[8.1,-1],[10.6,-1],[11.1,-1],[11.6,-1],[12.6,-1],[13.1,-1],[13.6,-1],[14.1,-1],[2.6,1.63],[3.1,2.77],[3.8,2.7],[4.1,2.25],[4.7,4.31],[5.3,2.87],[6.6,3.39],[7.8,3.8],[8.3,3.18],[9.6,3.39],[10.1,3.08],[11.3,3.22],[13.1,2.7],[13.6,2.77]]
]
const n3GreyB = [
  [[2.7,2.45],[3.6,2.65],[4.8,2.87],[5.7,2.65],[6.7,3.07],[7.4,3.17],[8.3,3.89],[9.0,3.79],[10.2,3.69],[10.6,3.07],[11.1,2.35],[12.0,2.45],[13.2,2.65],[13.7,3.07],[14.4,3.38],[15.3,3.48],[16.0,3.89],[16.7,3.07],[17.4,3.27]],
  [[0.6,-1],[1.3,-1],[1.8,-1],[2.3,-1],[8.1,2.14],[9.0,2.45],[14.2,2.35],[15.6,3.07],[16.3,2.45],[17.0,2.45],[17.6,2.04]],
  [[1.0,-1],[1.5,-1],[2.0,-1],[11.9,-1],[3.8,1.63],[5.2,3.28],[5.7,3.59],[6.4,3.39],[6.8,3.18],[7.0,4.52],[7.8,4.52],[8.3,4.11],[9.2,3.8],[9.5,3.18],[17.1,3.08],[17.6,3.39]],
  [[0.8,-1],[1.4,-1],[2.4,-1],[3.1,-1],[13.8,2.46],[14.3,2.15]],
  [[1.3,-1],[4.8,2.46],[5.5,2.46],[6.0,2.77],[7.1,2.15],[8.1,2.77],[14.8,3.39],[15.8,2.66],[16.8,3.39],[17.2,3.59],[17.7,2.46],[17.9,2.87]],
  [[0.9,-1],[1.4,-1],[4.6,2.77],[5.4,3.28],[6.6,3.9],[7.4,3.69],[8.1,3.59],[8.6,3.9],[11.1,2.7],[13.4,2.46],[15.6,3.49],[16.9,3.39]],
  [[1.3,-1],[1.8,-1],[5.8,2.25],[7.0,3.08],[7.8,3.39],[8.3,3.28],[9.0,3.53],[11.0,3.28],[11.8,2.87],[12.8,3.08],[13.8,3.39],[14.8,3.59],[16.0,4.0],[16.8,3.69],[17.5,3.39]],
  [[1.1,-1],[5.9,3.08],[6.4,3.39],[7.1,2.56],[7.6,3.28],[8.6,3.59],[9.6,2.87],[13.4,2.46],[15.1,3.08],[16.4,3.28],[16.9,2.91],[17.4,3.18]],
  [[1.1,-1],[1.5,-1],[17.6,-1],[6.1,2.87],[7.6,3.28],[8.1,2.25],[8.6,2.87],[9.1,2.97],[9.8,3.08],[17.6,1.74]]
]
const n3FitB = [
  [[0.8,-0.09],[1.7,0.9],[3.1,1.93],[4.5,2.76],[5.9,3.38],[7.6,3.69],[8.8,3.58],[10.2,2.96],[11.1,2.76],[12.5,2.8],[13.9,2.96],[15.8,3.38],[17.7,4.0]],
  [[0.7,-1.37],[2.0,0.08],[3.4,1.11],[4.8,1.83],[5.8,2.18],[6.9,2.1],[8.1,1.31],[8.8,0.7],[9.7,0.59],[10.9,1.11],[12.3,1.73],[14.2,2.35],[16.1,2.96],[17.6,3.17]],
  [[0.7,-2.9],[1.9,-0.64],[3.3,1.43],[4.7,2.87],[6.1,3.74],[7.0,3.9],[8.0,3.39],[9.1,2.25],[10.3,1.01],[11.7,0.09],[13.2,-0.26],[14.5,0.19],[15.9,1.43],[17.1,3.08],[17.7,4.31]],
  [[0.8,-1.62],[2.6,-0.74],[4.5,0.19],[6.1,1.12],[7.3,1.53],[8.7,1.59],[10.1,1.22],[11.0,1.01],[12.2,1.43],[13.6,1.74],[15.0,1.63],[16.4,1.22],[17.6,0.6]],
  [[0.8,-0.74],[2.0,0.19],[3.4,1.01],[4.8,1.84],[6.2,2.46],[7.1,2.71],[8.3,2.35],[9.5,1.84],[10.9,1.63],[12.3,2.04],[14.1,2.56],[16.0,3.08],[17.8,3.39]],
  [[0.9,-2.28],[2.1,-0.64],[3.6,1.22],[5.1,2.77],[6.6,3.65],[7.9,3.39],[9.1,2.87],[10.6,2.42],[12.1,2.21],[13.6,2.42],[15.1,2.87],[16.6,3.39],[17.5,3.74]],
  [[0.8,-1.46],[2.3,-0.43],[3.8,0.6],[5.3,1.74],[6.8,2.56],[8.3,3.08],[9.3,3.18],[10.3,2.97],[11.3,2.87],[12.8,3.18],[14.8,3.49],[16.8,3.8],[17.5,4.0]],
  [[0.9,-0.94],[2.4,0.4],[3.9,1.63],[5.4,2.56],[6.9,3.12],[8.1,2.87],[9.6,2.04],[11.1,1.67],[12.4,1.8],[13.9,2.25],[15.4,2.87],[17.4,3.9]],
  [[0.8,-1.67],[2.1,-0.43],[3.6,0.81],[5.1,1.74],[6.6,2.35],[7.8,2.56],[9.1,2.25],[11.1,1.43],[13.1,0.81],[15.1,0.5],[17.6,0.29]]
]
const n3HiB = [
  [[0.8,1.0],[2.2,1.93],[4.1,3.07],[5.9,3.79],[7.8,4.2],[9.2,4.0],[10.6,3.38],[12.5,3.27],[14.4,3.38],[16.2,3.79],[17.7,5.07]],
  [[0.7,0.49],[2.5,1.11],[4.4,2.14],[6.2,2.86],[8.1,2.76],[9.5,1.42],[10.7,1.52],[12.3,2.35],[14.2,2.76],[16.1,3.58],[17.7,4.82]],
  [[0.7,-1.67],[1.9,0.19],[3.3,2.04],[5.2,3.49],[6.8,4.42],[8.0,3.9],[9.4,2.66],[10.8,1.43],[12.2,0.6],[13.6,0.5],[15.0,1.12],[16.4,2.56],[17.3,4.31],[17.7,5.76]],
  [[0.8,-0.02],[2.6,-0.12],[4.5,0.6],[6.3,1.84],[8.2,2.35],[10.1,1.84],[11.5,1.94],[13.4,2.56],[15.3,2.35],[17.1,2.15]],
  [[0.8,0.4],[2.5,1.22],[4.3,2.35],[6.2,3.08],[7.4,3.18],[9.0,2.77],[10.6,2.35],[12.3,2.56],[14.1,3.08],[16.0,3.69],[17.8,4.73]],
  [[0.9,-1.25],[2.1,0.19],[3.6,2.04],[5.1,3.49],[6.6,4.21],[8.1,3.9],[9.6,3.28],[11.1,2.97],[12.6,2.91],[14.1,3.08],[15.6,3.49],[16.6,4.11],[17.5,4.93]],
  [[0.8,-0.12],[2.8,0.4],[4.8,1.53],[6.8,2.87],[8.8,3.69],[10.3,3.49],[11.8,3.69],[13.8,4.11],[15.8,4.62],[17.5,5.24]],
  [[0.9,0.09],[2.4,1.22],[3.9,2.25],[5.4,3.08],[7.4,3.9],[8.9,3.08],[10.4,2.66],[11.9,2.7],[13.9,3.08],[15.9,3.8],[17.4,5.14]],
  [[0.8,0.19],[2.6,1.01],[4.6,2.04],[6.6,2.66],[8.3,2.97],[10.1,2.56],[12.1,1.94],[14.1,1.53],[16.1,1.74],[17.6,2.35]]
]
const n3LoB = [
  [[0.8,-0.95],[1.7,0.39],[3.1,1.52],[4.5,2.35],[6.4,3.07],[8.3,3.27],[9.7,2.76],[11.1,2.24],[12.5,2.35],[13.9,2.45],[15.8,2.96],[17.7,3.07]],
  [[0.7,-3.22],[2.0,-1.16],[3.4,0.08],[4.8,1.01],[6.2,1.42],[7.6,1.31],[9.0,0.28],[10.0,-0.44],[11.2,-0.03],[12.8,0.7],[14.7,1.11],[16.6,1.73],[17.7,1.52]],
  [[0.7,-4.14],[1.9,-1.87],[3.3,0.6],[4.7,2.25],[6.1,3.18],[7.5,3.08],[8.7,1.94],[9.8,0.6],[11.2,-0.43],[12.9,-0.74],[14.3,-0.43],[15.4,0.6],[16.6,2.04],[17.7,3.28]],
  [[0.8,-3.42],[2.6,-1.87],[4.5,-0.53],[6.3,0.4],[8.2,0.71],[10.1,0.4],[11.5,0.19],[13.4,0.71],[15.3,0.81],[16.7,0.29],[17.6,-0.84]],
  [[0.8,-2.49],[2.0,-0.74],[3.4,0.4],[4.8,1.32],[6.2,1.94],[7.6,2.04],[9.0,1.53],[10.9,0.91],[12.8,1.22],[14.6,1.74],[16.5,2.25],[17.9,2.04]],
  [[0.9,-3.52],[2.1,-1.46],[3.6,0.6],[5.1,2.25],[6.6,3.08],[7.9,2.77],[9.4,2.15],[11.1,1.74],[12.6,1.59],[14.1,1.84],[15.6,2.25],[17.5,2.56]],
  [[0.8,-2.9],[2.8,-1.05],[4.8,0.5],[6.8,2.04],[8.8,2.56],[10.3,2.46],[11.8,2.29],[13.8,2.46],[15.8,2.77],[17.5,2.97]],
  [[0.9,-2.9],[2.4,-0.64],[3.9,0.91],[5.4,1.94],[6.9,2.46],[8.4,2.25],[9.6,1.32],[11.1,0.91],[12.6,1.12],[14.4,1.63],[16.4,2.15],[17.4,2.35]],
  [[0.8,-3.52],[2.6,-1.46],[4.6,0.29],[6.6,1.53],[8.3,1.84],[10.1,1.22],[12.1,0.29],[14.1,-0.43],[16.1,-1.05],[17.6,-2.08]]
]

// ---- group B, positive cases
const casesBlackB = [
  [[0.9,-1],[2.0,-1],[3.1,-1],[3.4,-1],[4.5,-1],[10.3,-1],[11.5,-1],[1.5,0.02],[2.4,0.02],[2.8,0.52],[4.1,0.73],[4.8,0.95],[5.1,1.15],[5.8,1.4],[6.2,1.27],[7.2,1.3],[7.6,2.01],[7.9,1.91],[8.7,1.76],[9.6,0.95],[10.1,0.85],[10.9,0.52],[10.9,0.14]],
  [[0.7,-1],[2.1,-1],[2.6,-1],[3.2,-1],[3.8,-1],[4.3,-1],[11.0,-1],[11.5,-1],[2.4,0.04],[2.6,0.04],[4.3,0.04],[5.1,0.7],[5.7,1.2],[7.1,1.45],[8.2,1.71],[9.0,0.55],[9.8,0.47],[10.4,0.04]],
  [[0.7,-1],[1.8,-1],[2.7,-1],[3.5,-1],[4.3,-1],[5.1,-1],[9.3,-1],[9.8,-1],[10.4,-1],[10.9,-1],[11.5,-1],[3.6,0.87],[5.6,1.35],[5.9,1.5],[7.6,1.63],[7.9,1.53],[8.7,0.5],[9.0,0.04],[10.4,0.04]],
  [[0.8,-1],[1.4,-1],[2.2,-1],[3.6,-1],[10.0,-1],[11.4,-1],[1.8,0.31],[2.2,0.31],[2.8,0.31],[4.4,0.62],[3.0,0.04],[3.6,0.04],[4.7,0.31],[5.5,1.45],[6.1,1.2],[6.9,2.49],[7.5,2.43],[8.9,0.95],[9.1,0.9],[9.7,0.65],[10.5,0.62],[10.8,0.31]],
  [[1.0,-1],[1.6,-1],[2.2,-1],[2.9,-1],[3.5,-1],[10.4,-1],[11.0,-1],[11.6,-1],[0.9,0.04],[2.4,0.32],[3.8,0.62],[4.0,0.52],[4.6,0.04],[5.8,1.35],[6.1,1.2],[7.4,1.74],[9.4,1.07],[9.9,0.32],[11.0,0.32]],
  [[0.8,-1],[2.2,-1],[0.9,0.04],[1.6,0.04],[1.9,0.62],[2.6,0.62],[2.8,0.04],[3.7,1.12],[4.0,1.15],[4.5,0.6],[4.7,0.62],[5.8,2.01],[5.9,2.31],[6.8,2.26],[8.7,2.01],[10.0,1.96],[11.4,0.04]],
  [[0.8,-1],[1.6,-1],[2.2,-1],[2.8,-1],[3.4,-1],[4.1,-1],[4.7,-1],[11.2,-1],[11.7,-1],[1.9,0.04],[2.7,0.04],[5.0,0.9],[5.6,0.95],[6.7,1.64],[8.7,1.25],[10.3,1.27],[10.6,0.62],[9.7,0.85]],
  [[0.8,-1],[1.7,-1],[2.4,-1],[3.0,-1],[3.6,-1],[4.2,-1],[9.2,-1],[9.8,-1],[10.2,-1],[10.8,-1],[11.4,-1],[1.1,0.04],[1.7,0.04],[2.4,0.04],[3.6,0.62],[4.6,1.1],[5.5,1.45],[6.7,2.41],[7.2,2.34],[7.5,2.26],[7.7,1.96],[8.2,1.84],[8.6,0.04],[9.2,0.04]],
  [[0.8,-1],[1.4,-1],[2.1,-1],[2.7,-1],[3.3,-1],[4.2,-1],[11.4,-1],[2.6,0.04],[3.6,0.32],[4.0,0.8],[4.9,0.95],[5.5,1.66],[5.9,1.88],[6.6,1.45],[8.9,1.1],[9.2,0.9],[9.5,1.71],[10.0,1.66],[10.3,1.2],[10.5,0.75]]
]
const casesGreyB = [
  [[0.6,-1],[2.9,0.04],[4.3,0.7],[5.7,1.1],[6.8,1.45],[7.3,1.86],[7.6,1.96],[8.1,1.81],[9.0,1.45],[9.5,1.05],[10.4,0.34]],
  [[1.3,-1],[3.5,-1],[5.4,0.85],[6.5,1.15],[7.1,1.35],[7.9,1.56],[8.5,1.45],[9.3,1.1],[10.1,0.64],[11.2,-0.92]],
  [[1.5,-1],[2.9,-1],[6.3,1.15],[6.9,1.3],[7.4,1.56],[8.2,1.25],[8.7,0.95],[10.7,-1]],
  [[0.5,-1],[3.0,0.04],[4.1,0.31],[6.1,1.56],[7.2,2.52],[7.9,2.26],[8.3,2.16],[9.4,0.8],[10.2,0.6]],
  [[1.6,-1],[5.1,0.95],[6.6,1.25],[7.2,1.61],[7.9,1.56],[8.8,1.25],[10.4,0.55]],
  [[1.2,0.14],[3.1,0.85],[4.4,1.3],[5.3,1.66],[6.5,2.21],[7.1,2.31],[8.1,2.16],[9.0,1.96],[10.3,1.45],[11.2,0.95]],
  [[1.6,-1],[6.2,1.35],[7.5,1.3],[8.1,1.15],[8.7,1.1],[9.7,1.0],[11.2,-1]],
  [[2.7,0.04],[5.8,1.4],[6.4,1.61],[7.2,2.18],[8.3,1.1]],
  [[1.4,-1],[4.5,0.34],[5.5,1.45],[6.4,1.5],[7.4,1.2],[8.0,1.2],[8.6,1.25],[9.5,1.35]]
]
const casesFitB = [
  [[0.8,-0.8],[2.0,-0.47],[3.4,0.04],[5.1,0.7],[6.5,1.45],[7.6,1.71],[8.7,1.45],[9.8,0.7],[10.9,-0.26],[11.5,-0.97]],
  [[0.7,-0.75],[1.7,-0.92],[2.6,-0.77],[4.0,-0.16],[5.7,0.75],[7.4,1.45],[8.5,1.5],[9.6,1.15],[10.4,0.44],[11.5,-0.77]],
  [[0.7,-0.85],[1.8,-1.02],[3.2,-0.92],[4.6,-0.36],[6.0,0.65],[7.4,1.3],[8.5,1.2],[9.6,0.44],[10.7,-0.46],[11.5,-1.53]],
  [[0.8,-0.67],[2.2,-0.46],[3.6,-0.06],[4.7,0.55],[5.8,1.35],[6.8,1.81],[7.7,1.56],[8.9,0.85],[10.2,0.14],[11.4,-0.62]],
  [[0.9,-0.75],[1.9,-0.67],[3.2,-0.36],[4.7,0.44],[6.0,1.1],[7.2,1.56],[8.5,1.3],[9.7,0.65],[11.0,-0.26],[11.6,-1.12]],
  [[0.8,-0.69],[2.2,-0.06],[3.7,0.6],[5.0,1.25],[6.2,2.06],[7.5,2.26],[8.7,2.21],[10.0,1.86],[10.9,1.25],[11.6,0.39]],
  [[0.8,-0.77],[1.9,-0.92],[3.1,-0.67],[4.4,-0.06],[5.6,0.9],[6.9,1.3],[8.1,1.3],[9.4,1.05],[10.6,0.44],[11.5,-0.72]],
  [[0.8,-0.82],[2.1,-0.67],[3.3,-0.36],[4.6,0.34],[5.8,1.2],[6.7,1.88],[7.4,1.86],[8.3,1.05],[9.6,0.04],[10.8,-0.97],[11.6,-1.73]],
  [[0.8,-1.22],[2.1,-0.87],[3.3,-0.26],[4.5,0.65],[5.8,1.35],[6.7,1.45],[7.7,1.37],[8.6,1.4],[9.5,1.2],[10.5,0.5],[11.4,-0.26]]
]
const casesHiB = [
  [[0.8,-0.11],[1.8,-0.26],[3.4,0.24],[5.1,1.15],[6.8,1.86],[7.9,2.04],[9.0,1.66],[10.1,0.95],[11.2,-0.16],[11.5,-0.41]],
  [[0.7,-0.21],[1.8,-0.62],[2.9,-0.46],[4.3,0.04],[6.0,0.95],[7.9,1.71],[9.0,1.66],[10.1,1.15],[11.0,0.34],[11.5,-0.36]],
  [[0.7,-0.01],[1.8,-0.62],[3.5,-0.46],[4.9,0.04],[6.3,0.95],[7.4,1.61],[8.5,1.45],[9.6,0.8],[10.7,0.04],[11.5,-0.36]],
  [[0.8,0.04],[2.2,-0.16],[3.6,0.24],[4.7,0.95],[5.8,1.76],[6.8,2.06],[7.7,1.86],[8.9,1.25],[10.2,0.65],[11.4,-0.36]],
  [[0.9,-0.16],[1.9,-0.41],[3.2,-0.11],[4.7,0.65],[6.0,1.35],[7.2,1.74],[8.5,1.5],[9.7,0.95],[11.0,0.04],[11.6,-0.87]],
  [[0.8,-0.46],[2.2,0.14],[3.7,0.8],[5.0,1.45],[6.2,2.26],[7.5,2.49],[8.7,2.36],[10.0,2.01],[10.9,1.45],[11.6,0.65]],
  [[0.8,-0.16],[1.9,-0.51],[3.1,-0.36],[4.4,0.14],[5.6,1.1],[6.9,1.56],[8.1,1.56],[9.4,1.3],[10.6,0.75],[11.5,-0.36]],
  [[0.8,0.04],[1.7,-0.26],[3.0,0.04],[4.6,0.75],[5.8,1.61],[6.7,2.21],[7.4,2.16],[8.6,1.15],[9.9,0.14],[10.8,-0.67],[11.4,-0.87]],
  [[0.8,-0.57],[2.1,-0.46],[3.3,0.04],[4.5,0.95],[5.8,1.66],[6.7,1.76],[8.3,1.66],[9.5,1.56],[10.5,0.95],[11.4,0.14]]
]
const casesLoB = [
  [[0.8,-1.47],[2.0,-0.92],[3.7,-0.26],[5.4,0.29],[6.8,1.25],[7.9,1.45],[9.0,1.05],[10.1,0.34],[10.9,-0.46],[11.5,-1.58]],
  [[0.7,-1.27],[2.4,-1.17],[4.0,-0.67],[5.7,0.44],[7.4,1.25],[8.5,1.3],[9.6,0.95],[10.7,0.04],[11.5,-1.78]],
  [[0.7,-1.63],[2.4,-1.27],[4.0,-0.87],[5.7,0.14],[7.1,0.95],[8.2,0.95],[9.6,0.04],[10.7,-0.87],[11.5,-2.23]],
  [[0.8,-1.37],[2.2,-0.87],[3.6,-0.36],[4.7,0.14],[5.8,0.95],[6.8,1.5],[7.7,1.25],[8.9,0.55],[10.2,-0.26],[11.4,-1.32]],
  [[0.9,-1.27],[2.4,-1.07],[3.5,-0.67],[4.7,0.19],[6.0,0.9],[7.2,1.35],[8.5,1.05],[9.7,0.34],[11.0,-0.56],[11.6,-1.78]],
  [[0.8,-0.92],[2.2,-0.26],[3.7,0.39],[5.0,1.05],[6.2,1.86],[7.5,2.11],[8.7,2.01],[10.0,1.66],[10.9,1.05],[11.6,0.04]],
  [[0.8,-1.27],[2.2,-1.17],[3.4,-0.97],[4.7,-0.31],[5.6,0.65],[6.9,1.1],[8.1,1.1],[9.4,0.8],[10.6,0.19],[11.5,-1.27]],
  [[0.8,-1.58],[2.1,-1.07],[3.3,-0.67],[4.6,0.04],[5.8,0.95],[6.7,1.61],[7.5,1.56],[8.6,0.65],[9.9,-0.26],[10.8,-1.27],[11.6,-2.43]],
  [[0.8,-1.78],[2.1,-1.27],[3.3,-0.56],[4.5,0.34],[5.8,1.1],[6.7,1.15],[8.0,1.05],[9.2,1.0],[10.5,0.14],[11.4,-1.02]]
]

const width = 1317, height = 912

let svg = d3.select('#chart')
  .append('svg')
  .attr('width', width)
  .attr('height', height)

const monthToDate = m => d3.timeDay.offset(new Date(2020, 7, 1), Math.round(m * 30.44))
const tickDates = dateTicks.map(d3.timeParse('%Y-%m-%d'))
const fmtDate = d => d3.timeFormat('%b-%y')(d).replace('-', '−')
const fmtExp = v => '1e' + (v < 0 ? '−' : '+') + String(Math.abs(v)).padStart(2, '0')

const groups = [
  { locs: locA, x0: 73.3, x1: 1307.7, rows: [
    { top: 23.3, bottom: 202.7, dom: [-3.68, 6.47], ticks: [-1, 2, 5], title: 'N3 copy number',
      black: n3BlackA, grey: n3GreyA, fit: n3FitA, lo: n3LoA, hi: n3HiA },
    { top: 209, bottom: 388.3, dom: [-2.42, 4.1], ticks: [-1, 1, 3], title: 'Positive cases',
      black: casesBlackA, grey: casesGreyA, fit: casesFitA, lo: casesLoA, hi: casesHiA }
  ] },
  { locs: locB, x0: 73.3, x1: 1308, rows: [
    { top: 482.7, bottom: 661, dom: [-4.93, 6.1], ticks: [-2, 1, 4], title: 'N3 copy number',
      black: n3BlackB, grey: n3GreyB, fit: n3FitB, lo: n3LoB, hi: n3HiB },
    { top: 667.3, bottom: 846, dom: [-2.67, 2.75], ticks: [-2, -1, 0, 1, 2], title: 'Positive cases',
      black: casesBlackB, grey: casesGreyB, fit: casesFitB, lo: casesLoB, hi: casesHiB }
  ] }
]

let clipId = 0

groups.forEach((g, gi) => {
  let facet = d3.scaleBand().domain(g.locs).range([g.x0, g.x1]).paddingInner(0.0455)

  // strip labels
  svg.selectAll(null)
    .data(g.locs)
    .enter()
    .append('text')
    .attr('x', d => facet(d) + facet.bandwidth() / 2)
    .attr('y', g.rows[0].top - 5)
    .attr('text-anchor', 'middle')
    .attr('font-size', 9)
    .attr('fill', '#1a1a1a')
    .text(d => d)

  g.rows.forEach((row, ri) => {
    let y = d3.scaleLinear().domain(row.dom).range([row.bottom, row.top])

    // y axis title
    let t = svg.append('text')
      .attr('transform', `translate(20,${(row.top + row.bottom) / 2}) rotate(-90)`)
      .attr('text-anchor', 'middle')
      .attr('font-size', 16)
      .attr('fill', '#000')
    t.append('tspan').text(row.title + ' (Log')
    t.append('tspan').attr('font-size', 11).attr('dy', 4).text('10')
    t.append('tspan').attr('dy', -4).text(')')

    g.locs.forEach((loc, li) => {
      let x = d3.scaleTime()
        .domain([monthToDate(-0.13), monthToDate(18.35)])
        .range([facet(loc), facet(loc) + facet.bandwidth()])

      let id = 'clip' + (clipId++)
      svg.append('clipPath').attr('id', id)
        .append('rect')
        .attr('x', facet(loc)).attr('y', row.top)
        .attr('width', facet.bandwidth()).attr('height', row.bottom - row.top)

      let p = svg.append('g').attr('clip-path', `url(#${id})`)

      p.selectAll('.blk')
        .data(row.black[li])
        .enter()
        .append('circle')
        .attr('cx', d => x(monthToDate(d[0])))
        .attr('cy', d => y(d[1]))
        .attr('r', 2.5)
        .attr('fill', '#000')

      p.selectAll('.gry')
        .data(row.grey[li])
        .enter()
        .append('circle')
        .attr('cx', d => x(monthToDate(d[0])))
        .attr('cy', d => y(d[1]))
        .attr('r', 2.5)
        .attr('fill', '#666')

      let line = d3.line()
        .x(d => x(monthToDate(d[0])))
        .y(d => y(d[1]))
        .curve(d3.curveCatmullRom.alpha(0.5))

      ;[row.lo[li], row.hi[li]].forEach(band => {
        p.append('path')
          .attr('d', line(band))
          .attr('fill', 'none')
          .attr('stroke', '#000')
          .attr('stroke-width', 0.9)
          .attr('stroke-dasharray', '4,4')
      })

      p.append('path')
        .attr('d', line(row.fit[li]))
        .attr('fill', 'none')
        .attr('stroke', '#000')
        .attr('stroke-width', 2.3)

      // panel border
      svg.append('rect')
        .attr('x', facet(loc)).attr('y', row.top)
        .attr('width', facet.bandwidth()).attr('height', row.bottom - row.top)
        .attr('fill', 'none')
        .attr('stroke', '#222')
        .attr('stroke-width', 1)

      if (li === 0) {
        let ax = svg.append('g')
          .attr('transform', `translate(${facet(loc)},0)`)
          .call(d3.axisLeft(y).tickValues(row.ticks).tickSize(3).tickPadding(2).tickFormat(fmtExp))
        ax.select('.domain').remove()
        ax.selectAll('line').attr('stroke', '#333')
        ax.selectAll('text').attr('font-size', 13).attr('fill', '#4d4d4d')
          .attr('font-family', '"Liberation Sans", Arial, sans-serif')
      }

      if (ri === 1) {
        let bx = svg.append('g')
          .attr('transform', `translate(0,${row.bottom})`)
          .call(d3.axisBottom(x).tickValues(tickDates).tickSize(3).tickFormat(fmtDate))
        bx.select('.domain').remove()
        bx.selectAll('line').attr('stroke', '#333')
        bx.selectAll('text')
          .attr('font-size', 13)
          .attr('fill', '#4d4d4d')
          .attr('font-family', '"Liberation Sans", Arial, sans-serif')
          .attr('transform', 'rotate(-90)')
          .attr('text-anchor', 'end')
          .attr('x', -5)
          .attr('y', 0)
          .attr('dy', '0.35em')
      }
    })
  })
})

svg.append('text')
  .attr('x', 690)
  .attr('y', 910)
  .attr('text-anchor', 'middle')
  .attr('font-size', 16)
  .text('Date')
</script>
</body>
</html>
